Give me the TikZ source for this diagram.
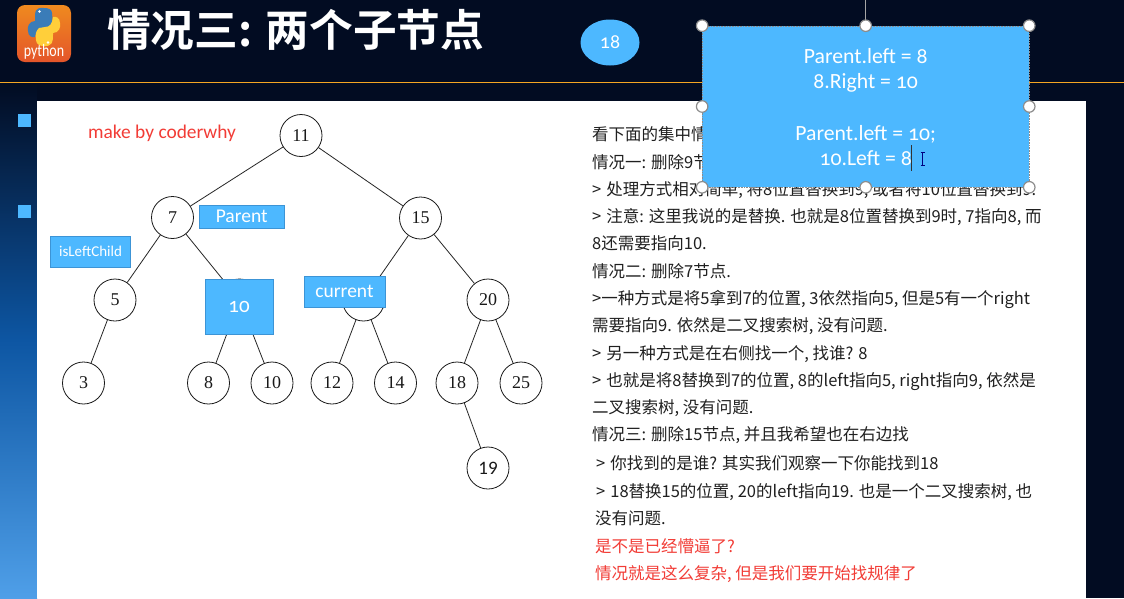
\documentclass[tikz,border=0pt]{standalone}
\usepackage{fontspec}
\setmainfont{Liberation Serif}
\newfontfamily\cjk{Noto Sans CJK SC}
\newfontfamily\cjkb{Noto Sans CJK SC Bold}
\newfontfamily\uifont[Numbers=OldStyle]{Carlito}
\newfontfamily\plainui{Carlito}
\usetikzlibrary{shapes.geometric}
\definecolor{navy}{HTML}{020C22}
\definecolor{skyfill}{HTML}{4DB8FF}
\definecolor{skyline}{HTML}{3C94D6}
\definecolor{gold}{HTML}{F5A623}
\definecolor{redtxt}{HTML}{F23C36}
\definecolor{body}{HTML}{202020}
\definecolor{stripmid}{HTML}{0D56A3}
\definecolor{stripend}{HTML}{4F9FE8}
\definecolor{logotop}{HTML}{EF8A1F}
\definecolor{logobot}{HTML}{E4552A}
\definecolor{pyblue}{HTML}{3A7CB8}
\definecolor{pyyellow}{HTML}{FFCF3A}
\tikzset{
  x=1pt,y=-1pt,
  treenode/.style={circle,draw=black!90,line width=0.8pt,fill=white,minimum size=42pt,inner sep=0pt,font=\fontsize{18}{18}\selectfont,text=black!90},
  treeedge/.style={draw=black!85,line width=0.8pt},
  bluebox/.style={draw=skyline,line width=0.6pt,fill=skyfill,text=white,inner sep=0pt,font=\uifont\fontsize{19.5}{19.5}\selectfont},
  handle/.style={circle,draw=black!45,line width=1.2pt,fill=white,minimum size=11.5pt,inner sep=0pt},
  txt/.style={anchor=base west,inner sep=0pt,text=body,font=\cjk\fontsize{16.5}{16.5}\selectfont,yshift=-6pt},
  redline/.style={txt,text=redtxt},
  bullet/.style={fill=skyfill,draw=none,minimum size=12.5pt,inner sep=0pt},
}
\newcommand{\gtsp}{\hspace{5pt}}
\begin{document}
\begin{tikzpicture}
\useasboundingbox (0,0) rectangle (1124,598);
% backgrounds
\fill[navy] (0,0) rectangle (1124,598);
\shade[top color=navy,bottom color=stripmid] (0,84) rectangle (37,340);
\shade[top color=stripmid,bottom color=stripend] (0,340) rectangle (37,598);
\fill[white] (37,101) rectangle (1086,598);
\draw[gold,line width=1.8pt] (0,82.5) -- (1124,82.5);
% logo
\shade[top color=logotop,bottom color=logobot,rounded corners=8pt] (17,5) rectangle (71,62);
\fill[pyblue] (44,8) .. controls (34,7) and (35,13) .. (35,19) -- (35,21) .. controls (29,21) and (27,27) .. (28,31) .. controls (28,36) and (32,38) .. (35,37) .. controls (36,31) and (38,29) .. (43,29) -- (49,29) .. controls (52,26) and (53,23) .. (52,13) .. controls (52,9) and (48,8) .. (44,8) -- cycle;
\fill[pyyellow] (43,46) .. controls (53,47) and (53,41) .. (53,35) -- (53,33) .. controls (59,33) and (61,27) .. (60,23) .. controls (60,18) and (56,16) .. (53,17) .. controls (52,24) and (50,27) .. (45,27) -- (39,28) .. controls (36,31) and (35,34) .. (36,40) .. controls (36,44) and (40,46) .. (43,46) -- cycle;
\fill[white] (39.5,11.5) circle (1.3);
\fill[white] (48,42.5) circle (1.3);
\node[inner sep=0pt,text=white,xscale=0.8,font=\plainui\fontsize{17.5}{17.5}\selectfont] (logotext) at (44,52) {python};
% title
\node[anchor=west,inner sep=0pt,text=white,font=\cjkb\fontsize{43.7}{43.7}\selectfont] (title) at (107,29.5) {情况三: 两个子节点};
% bullets
\node[bullet] (b1) at (24.3,120.5) {};
\node[bullet] (b2) at (24.3,211.5) {};
% ellipse 18
\node[ellipse,fill=skyfill,draw=none,minimum width=59pt,minimum height=46pt,inner sep=0pt,text=white,font=\uifont\fontsize{20}{20}\selectfont] (e18) at (610,42.5) {18};
% tree
\node[anchor=west,inner sep=0pt,text=redtxt,font=\plainui\fontsize{19.4}{19.4}\selectfont] (make) at (88,133) {make by coderwhy};
\node[treenode] (n11) at (301,135.5) {11};
\node[treenode] (n7) at (172.5,217.5) {7};
\node[treenode] (n15) at (420.5,218) {15};
\node[treenode] (n5) at (115,300) {5};
\node[treenode] (n9) at (239.5,300) {};
\node[treenode] (n13) at (363.5,300) {};
\node[treenode] (n20) at (488,300) {20};
\node[treenode] (n3) at (83.5,383) {3};
\node[treenode] (n8) at (208.5,383) {8};
\node[treenode] (n10) at (272,383) {10};
\node[treenode] (n12) at (332,383) {12};
\node[treenode] (n14) at (395.5,383) {14};
\node[treenode] (n18) at (457,383) {18};
\node[treenode] (n25) at (521,383) {25};
\node[treenode,font=\plainui\fontsize{19}{19}\selectfont] (n19) at (488,468) {19};
\foreach \a/\b in {n11/n7,n11/n15,n7/n5,n7/n9,n15/n13,n15/n20,n5/n3,n9/n8,n9/n10,n13/n12,n13/n14,n20/n18,n20/n25,n18/n19}
  \draw[treeedge] (\a) -- (\b);
% label boxes
\node[bluebox,minimum width=85.5pt,minimum height=23pt] (parent) at (241.7,216.5) {Parent};
\node[bluebox,minimum width=80pt,minimum height=31pt,font=\plainui\fontsize{15}{15}\selectfont] (left) at (90.5,251.5) {isLeftChild};
\node[bluebox,minimum width=68pt,minimum height=55pt,font=\uifont\fontsize{21}{21}\selectfont] (ten) at (239,306.5) {\raisebox{-2.5pt}{10}};
\node[bluebox,minimum width=81pt,minimum height=30.5pt] (cur) at (344.5,291.7) {current};
% text
\node[txt] (t1) at (592,134) {看下面的集中情};
\node[txt] (t2) at (592,162) {情况一: 删除9节};
\node[txt] (t3) at (592,189) {>\gtsp 处理方式相对简单, 将8位置替换到9, 或者将10位置替换到9.};
\node[txt] (t4) at (592,216.5) {>\gtsp 注意: 这里我说的是替换. 也就是8位置替换到9时, 7指向8, 而};
\node[txt] (t5) at (592,243.5) {8还需要指向10.};
\node[txt] (t6) at (592,271) {情况二: 删除7节点.};
\node[txt] (t7) at (592,298) {>一种方式是将5拿到7的位置, 3依然指向5, 但是5有一个right};
\node[txt] (t8) at (592,325) {需要指向9. 依然是二叉搜索树, 没有问题.};
\node[txt] (t9) at (592,353) {>\gtsp 另一种方式是在右侧找一个, 找谁? 8};
\node[txt] (t10) at (592,380) {>\gtsp 也就是将8替换到7的位置, 8的left指向5, right指向9, 依然是};
\node[txt] (t11) at (592,407) {二叉搜索树, 没有问题.};
\node[txt] (t12) at (592,434.5) {情况三: 删除15节点, 并且我希望也在右边找};
\node[txt] (t13) at (596,463) {>\gtsp 你找到的是谁? 其实我们观察一下你能找到18};
\node[txt] (t14) at (596,491) {>\gtsp 18替换15的位置, 20的left指向19. 也是一个二叉搜索树, 也};
\node[txt] (t15) at (595,518) {没有问题.};
\node[redline] (t16) at (595,546) {是不是已经懵逼了?};
\node[redline] (t17) at (595,573) {情况就是这么复杂, 但是我们要开始找规律了};
% selected box
\coordinate (stem) at (865.7,0);
\node[draw=black!45,densely dotted,line width=0.6pt,fill=skyfill,minimum width=326.5pt,minimum height=161pt,inner sep=0pt] (big) at (865.7,106.5) {};
\draw[black!35,line width=0.7pt] (stem) -- (big.north);
\node[inner sep=0pt,text=white,font=\uifont\fontsize{21.7}{25.65}\selectfont,align=center] (bigtext) at (865.7,107) {Parent.left = 8\\8.Right = 10\\\mbox{}\\Parent.left = 10;\\10.Left = 8};
\node[handle] (h1) at (big.north west) {};
\node[handle] (h2) at (big.north) {};
\node[handle] (h3) at (big.north east) {};
\node[handle] (h4) at (big.west) {};
\node[handle] (h5) at (big.east) {};
\node[handle] (h6) at (big.south west) {};
\node[handle] (h7) at (big.south) {};
\node[handle] (h8) at (big.south east) {};
% text caret and I-beam
\draw[black!80,line width=0.7pt] (911.7,145) -- (911.7,171);
\draw[blue!50!black,line width=0.8pt] (922.7,152.5) -- (922.7,165.5) (920.5,152.5) -- (925,152.5) (920.5,165.5) -- (925,165.5);
\end{tikzpicture}
\end{document}
